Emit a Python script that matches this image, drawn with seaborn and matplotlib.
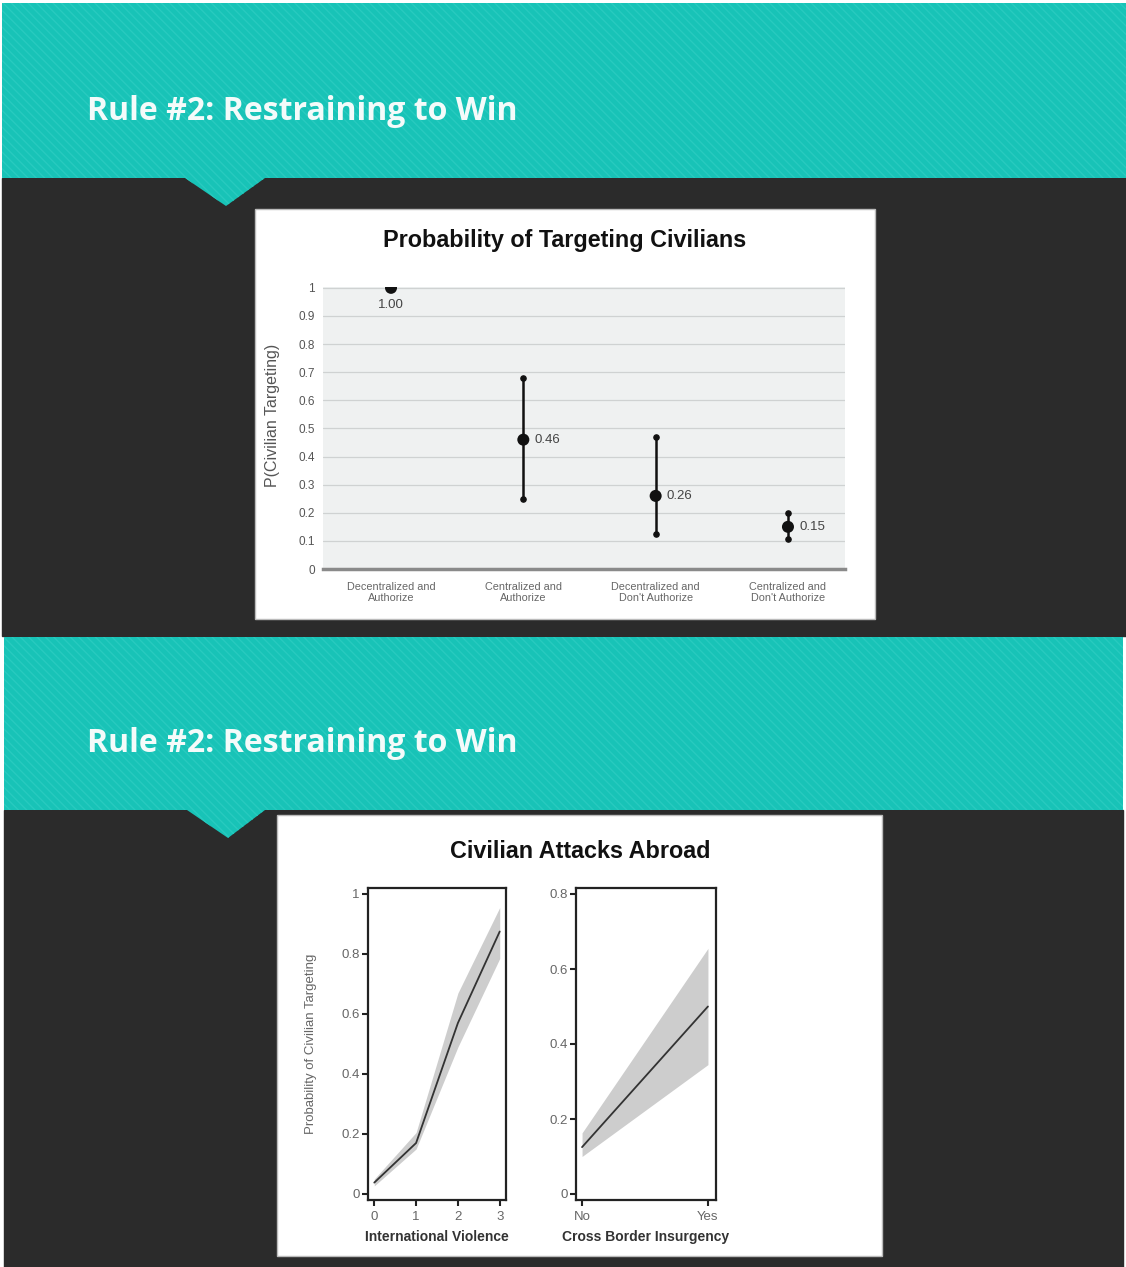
import matplotlib

matplotlib.use("Agg")
import matplotlib.pyplot as plt
import numpy as np
import pandas as pd
import seaborn as sns
from matplotlib.patches import Polygon, Rectangle

W, H = 1126, 1267

slide_title = "Rule #2: Restraining to Win"

# chart 1: probability of targeting civilians by structure
targeting_title = "Probability of Targeting Civilians"
structures = [
    "Decentralized and\nAuthorize",
    "Centralized and\nAuthorize",
    "Decentralized and\nDon't Authorize",
    "Centralized and\nDon't Authorize",
]
p_target = [1.00, 0.46, 0.26, 0.15]
p_low = [np.nan, 0.25, 0.125, 0.105]
p_high = [np.nan, 0.68, 0.47, 0.20]
p_ticks = [0, 0.1, 0.2, 0.3, 0.4, 0.5, 0.6, 0.7, 0.8, 0.9, 1]

# chart 2: civilian attacks abroad
abroad_title = "Civilian Attacks Abroad"
violence_levels = [0, 1, 2, 3]
violence_prob = [0.038, 0.17, 0.57, 0.875]
violence_low = [0.027, 0.15, 0.49, 0.785]
violence_high = [0.05, 0.205, 0.67, 0.955]
violence_ticks = [0, 0.2, 0.4, 0.6, 0.8, 1]

insurgency = ["No", "Yes"]
insurgency_prob = [0.125, 0.50]
insurgency_low = [0.10, 0.345]
insurgency_high = [0.163, 0.655]
insurgency_ticks = [0, 0.2, 0.4, 0.6, 0.8]

TEAL = "#18c3b7"
DARK = "#2b2b2b"

sns.set_theme(style="white")
plt.rcParams["font.family"] = ["Liberation Sans", "DejaVu Sans"]
plt.rcParams["hatch.linewidth"] = 1.0


def box(x0, y0, x1, y1):
    return [x0 / W, 1 - y1 / H, (x1 - x0) / W, (y1 - y0) / H]


def tick_text(values):
    return [f"{v:g}" for v in values]


fig = plt.figure(figsize=(W / 100, H / 100), dpi=100)
fig.patch.set_facecolor("white")

bg = fig.add_axes([0, 0, 1, 1])
bg.set_xlim(0, W)
bg.set_ylim(H, 0)
bg.axis("off")

# slide backgrounds
bg.add_patch(Rectangle((2, 178), W - 2, 458, color=DARK))
bg.add_patch(Polygon([(2, 3), (W, 3), (W, 178), (265, 178), (226, 206), (185, 178), (2, 178)],
                     facecolor=TEAL, edgecolor="#28cabf", hatch="\\\\\\\\", lw=0))
bg.add_patch(Rectangle((4, 810), 1119, H - 810, color=DARK))
bg.add_patch(Polygon([(4, 637), (1123, 637), (1123, 810), (265, 810), (228, 838), (187, 810), (4, 810)],
                     facecolor=TEAL, edgecolor="#28cabf", hatch="\\\\\\\\", lw=0))

for ty in (112, 744):
    bg.text(87, ty, slide_title, color="#f4fbfa", fontsize=23, fontweight="bold",
            family=["Open Sans", "DejaVu Sans"], va="center", ha="left")

# white panels
bg.add_patch(Rectangle((255, 209), 620, 410, facecolor="white", edgecolor="#bbbbbb", lw=1))
bg.add_patch(Rectangle((277, 815), 605, 441, facecolor="white", edgecolor="#bbbbbb", lw=1))

bg.text(565, 240, targeting_title, fontsize=16.8, fontweight="bold", color="#111111", ha="center", va="center")
bg.text(273, 415, "P(Civilian Targeting)", fontsize=11.5, color="#555555", rotation=90, ha="center", va="center")
bg.text(580, 852, abroad_title, fontsize=16.8, fontweight="bold", color="#111111", ha="center", va="center")
bg.text(311, 1044, "Probability of Civilian Targeting", fontsize=9.5, color="#666666", rotation=90,
        ha="center", va="center")

# chart 1
ax1 = fig.add_axes(box(323, 287, 845, 569))
df1 = pd.DataFrame({"structure": structures, "p": p_target, "low": p_low, "high": p_high})
ax1.set_facecolor("#eff1f1")
for t in p_ticks[1:]:
    ax1.axhline(t, color="#cfd2d2", lw=0.9, zorder=0)
ci = df1.dropna()
ax1.errorbar(ci.index, ci["p"], yerr=[ci["p"] - ci["low"], ci["high"] - ci["p"]], fmt="none",
             ecolor="#111111", elinewidth=1.8, capsize=0, zorder=2)
ax1.scatter(np.r_[ci.index, ci.index], np.r_[ci["low"], ci["high"]], s=14, color="#111111", zorder=2)
sns.scatterplot(data=df1, x="structure", y="p", ax=ax1, color="#111111", s=75, edgecolor="none", zorder=3)
for i, row in df1.iterrows():
    if i == 0:
        ax1.annotate(f"{row['p']:.2f}", (i, row["p"]), xytext=(0, -12), textcoords="offset points",
                     ha="center", va="center", fontsize=9.5, color="#444444")
    else:
        ax1.annotate(f"{row['p']:.2f}", (i, row["p"]), xytext=(8, 0), textcoords="offset points",
                     ha="left", va="center", fontsize=9.5, color="#444444")
ax1.set_xlim(-0.514, 3.431)
ax1.set_ylim(0, 1.003)
ax1.set_yticks(p_ticks)
ax1.set_yticklabels(tick_text(p_ticks))
ax1.set_xlabel("")
ax1.set_ylabel("")
ax1.tick_params(axis="y", length=0, pad=6, labelsize=8.5, labelcolor="#555555")
ax1.tick_params(axis="x", length=0, pad=9, labelsize=7.8, labelcolor="#666666")
for side in ("top", "right", "left"):
    ax1.spines[side].set_visible(False)
ax1.spines["bottom"].set_color("#8a8a8a")
ax1.spines["bottom"].set_linewidth(2.5)

# chart 2, left panel
ax2 = fig.add_axes(box(368, 888, 506, 1200))
df2 = pd.DataFrame({"violence": violence_levels, "p": violence_prob, "low": violence_low, "high": violence_high})
ax2.fill_between(df2["violence"], df2["low"], df2["high"], color="#cdcdcd", lw=0)
sns.lineplot(data=df2, x="violence", y="p", ax=ax2, color="#333333", lw=1.3)
ax2.set_xlim(-0.15, 3.15)
ax2.set_ylim(-0.02, 1.02)
ax2.set_xticks(violence_levels)
ax2.set_yticks(violence_ticks)
ax2.set_yticklabels(tick_text(violence_ticks))
ax2.set_xlabel("International Violence", fontsize=10, fontweight="bold", color="#333333", labelpad=5)
ax2.set_ylabel("")

# chart 2, right panel
ax3 = fig.add_axes(box(576, 888, 716, 1200))
df3 = pd.DataFrame({"insurgency": insurgency, "p": insurgency_prob, "low": insurgency_low, "high": insurgency_high})
ax3.fill_between(range(len(insurgency)), df3["low"], df3["high"], color="#cdcdcd", lw=0)
sns.lineplot(data=df3, x="insurgency", y="p", ax=ax3, color="#333333", lw=1.3, sort=False)
ax3.set_xlim(-0.048, 1.064)
ax3.set_ylim(-0.016, 0.816)
ax3.set_yticks(insurgency_ticks)
ax3.set_yticklabels(tick_text(insurgency_ticks))
ax3.set_xlabel("Cross Border Insurgency", fontsize=10, fontweight="bold", color="#333333", labelpad=5)
ax3.set_ylabel("")

for ax in (ax2, ax3):
    for side in ax.spines.values():
        side.set_visible(True)
        side.set_color("#222222")
        side.set_linewidth(1.6)
    ax.tick_params(axis="both", direction="out", length=4, width=1.5, color="#222222",
                   labelsize=9.5, labelcolor="#666666", pad=2)
    ax.tick_params(axis="x", bottom=True, pad=4)
    ax.tick_params(axis="y", left=True)

fig.savefig("out.png", dpi=100)
